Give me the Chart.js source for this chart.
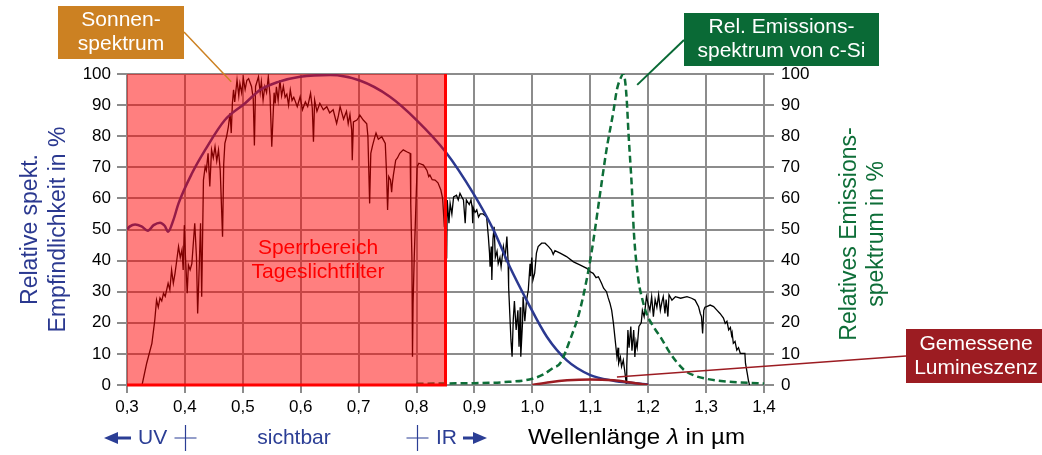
<!DOCTYPE html>
<html><head><meta charset="utf-8">
<script src="https://cdn.jsdelivr.net/npm/chart.js@4/dist/chart.umd.min.js"></script>
<style>html,body{margin:0;padding:0;background:#fff;overflow:hidden}#c{display:block}</style>
</head><body>
<canvas id="c" width="1042" height="455"></canvas>
<script>
// ---------- DATA ----------
const xTickLabels = ['0,3','0,4','0,5','0,6','0,7','0,8','0,9','1,0','1,1','1,2','1,3','1,4'];
const yTickValues = [0,10,20,30,40,50,60,70,80,90,100];

// Sonnenspektrum (relative, %)
const solarLambda = [0.326,0.334,0.343,0.348,0.351,0.354,0.357,0.36,0.363,0.366,0.371,0.374,0.377,0.38,0.383,0.386,0.389,0.392,0.395,0.397,0.399,0.401,0.404,0.406,0.409,0.412,0.417,0.42,0.422,0.424,0.427,0.429,0.432,0.435,0.437,0.44,0.443,0.446,0.449,0.452,0.455,0.458,0.461,0.465,0.467,0.469,0.472,0.475,0.478,0.48,0.482,0.484,0.486,0.49,0.493,0.495,0.498,0.501,0.504,0.507,0.51,0.515,0.518,0.52,0.522,0.527,0.53,0.532,0.535,0.538,0.541,0.544,0.547,0.55,0.554,0.556,0.558,0.561,0.564,0.567,0.57,0.573,0.576,0.579,0.582,0.585,0.588,0.594,0.599,0.603,0.608,0.612,0.617,0.62,0.622,0.624,0.628,0.633,0.639,0.645,0.65,0.656,0.662,0.665,0.668,0.674,0.679,0.682,0.685,0.688,0.689,0.691,0.697,0.7,0.702,0.708,0.714,0.716,0.719,0.721,0.724,0.728,0.73,0.734,0.74,0.746,0.748,0.75,0.752,0.755,0.757,0.758,0.76,0.764,0.767,0.771,0.777,0.783,0.789,0.79,0.792,0.793,0.794,0.796,0.799,0.801,0.804,0.812,0.818,0.821,0.823,0.827,0.832,0.837,0.842,0.845,0.848,0.849,0.851,0.852,0.853,0.856,0.858,0.861,0.864,0.869,0.872,0.875,0.878,0.881,0.884,0.886,0.891,0.894,0.896,0.897,0.898,0.901,0.904,0.907,0.91,0.915,0.921,0.924,0.926,0.927,0.929,0.93,0.932,0.934,0.936,0.939,0.941,0.944,0.946,0.95,0.953,0.956,0.958,0.959,0.961,0.963,0.965,0.967,0.969,0.972,0.975,0.977,0.979,0.98,0.983,0.984,0.987,0.99,0.993,0.996,0.997,0.999,1.001,1.004,1.007,1.01,1.016,1.022,1.028,1.033,1.036,1.039,1.048,1.059,1.071,1.082,1.094,1.1,1.105,1.11,1.114,1.117,1.12,1.123,1.128,1.131,1.134,1.137,1.14,1.143,1.146,1.148,1.149,1.152,1.154,1.157,1.16,1.162,1.163,1.165,1.167,1.17,1.172,1.175,1.177,1.179,1.181,1.184,1.188,1.19,1.193,1.195,1.197,1.2,1.203,1.206,1.209,1.212,1.215,1.218,1.221,1.224,1.226,1.229,1.231,1.234,1.236,1.241,1.247,1.256,1.267,1.275,1.281,1.287,1.29,1.292,1.294,1.296,1.298,1.301,1.307,1.313,1.319,1.324,1.33,1.333,1.336,1.339,1.342,1.344,1.345,1.347,1.35,1.353,1.356,1.359,1.367,1.368,1.371,1.373,1.375];
const solarValue = [0,7,13.4,20.9,27.3,25,28,27,29.5,28.5,32.7,30.6,37,32.7,36,40.2,44.5,41,43.5,37,51.4,41,29.5,38.6,37,39,52,41,23,33.7,52,28.4,65.9,70.2,69,74.5,63.8,75.6,73,76.6,72,75.6,69,47.7,71,77.7,79.9,83,87.4,81,90.6,94.9,91,98.1,93,97,94,98.5,95,98,98.5,96,92,77,96,99.1,94,97.5,91.6,96,94,99.1,93,76.6,94,90.5,95.9,91.5,98,93,96,92.5,93.5,90,94.9,91.5,92.5,89.5,92.7,88.5,91,89.5,93.8,89,78.2,91.6,88,90.6,88.5,89.5,87.5,88.5,84.1,86.5,89.5,85.5,88,84,87,82,72.3,84.6,85.2,86,86.8,85.2,84,80,58.4,74.5,77,79.8,81,79,79.8,77.7,69,56.3,67,65.9,62,64.5,67.5,72.3,73,74.5,75.6,75,74.5,58.4,41,9.1,26,41,58.4,70.2,71.3,70.7,69,67,67.5,66,65.9,65,62.7,60,50.9,55,52,40.7,59.5,52,58.4,55,60.5,61,59.5,61.6,60.5,59.5,52,59.5,58,59.5,57,52,57,55.5,56.3,54,55,55,54,47.7,42.4,38,44.5,33.8,47,50.9,41,43,39,41,38,44.5,41,47.7,40,31.6,23,14.5,9.1,21,27,17.7,24,12.3,25,9.1,20,28.4,20.5,27.3,30.6,39,35,41,33.8,36,42.4,44.5,45.6,45.6,44.5,43.4,42,43.2,42.4,41.3,39.6,38.6,37.5,36.4,35.9,34.5,34.8,33.7,32.5,31.1,30,28,26.3,24,19.8,14.5,9.1,12,7,9,5.9,8,3.8,0.5,6,17.7,12,18.8,11,17.7,9,14,12,18.8,20,24,22,25,28.4,26,24,28.4,22,27.5,25,29,24,27,28.4,23,27.5,22,29,27.3,28.4,27.9,28.4,27.9,27.3,25.2,23,22,16.6,24,25,25.2,25.7,25.2,24,23,21.5,19.8,20.5,17.7,18.5,16,16.8,13.4,14,11.2,12,10.2,10.2,7,3.8,1.6,0];

// Relative spektrale Empfindlichkeit (%)
const sensLambda = [0.3,0.305,0.314,0.325,0.336,0.346,0.357,0.365,0.371,0.38,0.389,0.412,0.435,0.469,0.504,0.53,0.56,0.599,0.651,0.702,0.754,0.8,0.85,0.898,0.933,0.961,0.99,1.025,1.059,1.1,1.14,1.17,1.2];
const sensValue  = [50,51,51.6,51,49.6,51.4,52.2,51.2,49.3,53,58.4,68,75.6,85.2,90.6,94.9,97.4,99.1,99.7,97.9,92.7,85.2,75,61.6,49.8,38,27.3,15.5,8,3.2,1.4,0.7,0.2];

// Relatives Emissionsspektrum von c-Si (%)
const emisLambda = [0.8,0.85,0.9,0.95,1.0,1.02,1.036,1.048,1.065,1.082,1.097,1.105,1.117,1.128,1.14,1.146,1.152,1.157,1.16,1.163,1.166,1.172,1.175,1.183,1.19,1.197,1.21,1.221,1.238,1.261,1.28,1.3,1.33,1.36,1.4];
const emisValue  = [0.4,0.5,0.6,0.9,2,3.5,5.5,7,14.5,24,37,46,61.6,75.6,88,95,98.5,100,98,91.6,81,62.7,50,34,27.5,23,18.5,15.5,10.2,5,3,2,1.2,0.8,0.5];

// Gemessene Lumineszenz (%)
const lumLambda = [1.0,1.03,1.06,1.1,1.14,1.17,1.2];
const lumValue  = [0,0.9,1.5,1.8,1.5,0.8,0];

// Sperrbereich Tageslichtfilter (µm)
const filterRange = [0.3, 0.85];

// ---------- CHART ----------
const FONT = '"Liberation Sans", Arial, Helvetica, sans-serif';
const zip = (a, b) => a.map((x, i) => ({x, y: b[i]}));
const GRID = '#8c8c8c';

const annotate = {
  id: 'annotate',
  afterDatasetsDraw(chart) {
    const {ctx, scales: {x, y}} = chart;
    const x0 = x.getPixelForValue(filterRange[0]), x1 = x.getPixelForValue(filterRange[1]);
    const yt = y.getPixelForValue(100), yb = y.getPixelForValue(0);
    ctx.save();
    ctx.fillStyle = 'rgba(255,0,0,0.5)';
    ctx.fillRect(x0, yt, x1 - x0, yb - yt);
    ctx.strokeStyle = '#ff0000';
    ctx.lineWidth = 3;
    ctx.beginPath();
    ctx.moveTo(x0, yb); ctx.lineTo(x1, yb); ctx.lineTo(x1, yt);
    ctx.stroke();
    ctx.fillStyle = '#ff0000';
    ctx.font = '21px ' + FONT;
    ctx.textAlign = 'center'; ctx.textBaseline = 'middle';
    ctx.fillText('Sperrbereich', 318, 248);
    ctx.fillText('Tageslichtfilter', 318, 272);
    ctx.restore();
  },
  afterDraw(chart) {
    const {ctx, scales: {x, y}} = chart;
    ctx.save();
    // right axis title
    ctx.fillStyle = '#0e6e38';
    ctx.font = '23px ' + FONT;
    ctx.textAlign = 'center'; ctx.textBaseline = 'middle';
    ctx.translate(850, 234);
    ctx.rotate(-Math.PI / 2);
    ctx.fillText('Relatives Emissions-', 0, 0);
    ctx.fillText('spektrum in %', 0, 27);
    ctx.setTransform(1, 0, 0, 1, 0, 0);

    // callouts
    function callout(lines, bx, by, bw, bh, color, ax, ay, lx, ly, lw) {
      ctx.strokeStyle = color; ctx.lineWidth = lw;
      ctx.beginPath(); ctx.moveTo(lx, ly); ctx.lineTo(ax, ay); ctx.stroke();
      ctx.fillStyle = color;
      ctx.fillRect(bx, by, bw, bh);
      ctx.fillStyle = '#ffffff';
      ctx.font = '21px ' + FONT;
      ctx.textAlign = 'center'; ctx.textBaseline = 'middle';
      ctx.fillText(lines[0], bx + bw / 2, by + bh / 2 - 12);
      ctx.fillText(lines[1], bx + bw / 2, by + bh / 2 + 12);
    }
    callout(['Sonnen-', 'spektrum'], 58, 6, 126, 53, '#cc8122',
      x.getPixelForValue(0.48), y.getPixelForValue(97.5), 184, 32, 1.5);
    callout(['Rel. Emissions-', 'spektrum von c-Si'], 684, 13, 195, 53, '#0a6a36',
      x.getPixelForValue(1.181), y.getPixelForValue(96.5), 684, 40, 2);
    callout(['Gemessene', 'Lumineszenz'], 906, 329, 140, 54, '#9c1c22',
      x.getPixelForValue(1.146), y.getPixelForValue(2.6), 906, 356, 1.5);

    // bottom row
    const blue = '#2b3e95';
    const by = 438;
    ctx.fillStyle = blue; ctx.strokeStyle = blue;
    ctx.font = '21px ' + FONT;
    ctx.textBaseline = 'middle';
    ctx.lineWidth = 3;
    ctx.beginPath(); ctx.moveTo(116, by); ctx.lineTo(131, by); ctx.stroke();
    ctx.beginPath(); ctx.moveTo(104, by); ctx.lineTo(118, by - 6); ctx.lineTo(118, by + 6); ctx.closePath(); ctx.fill();
    ctx.textAlign = 'left';
    ctx.fillText('UV', 138, by);
    ctx.lineWidth = 1.2;
    [0.4, 0.8].forEach(v => {
      const px = Math.round(x.getPixelForValue(v)) + 0.5;
      ctx.beginPath();
      ctx.moveTo(px, by - 13); ctx.lineTo(px, by + 13);
      ctx.moveTo(px - 11, by); ctx.lineTo(px + 11, by);
      ctx.stroke();
    });
    ctx.textAlign = 'center';
    ctx.fillText('sichtbar', 294, by);
    ctx.textAlign = 'left';
    ctx.fillText('IR', 436, by);
    ctx.lineWidth = 3;
    ctx.beginPath(); ctx.moveTo(463, by); ctx.lineTo(476, by); ctx.stroke();
    ctx.beginPath(); ctx.moveTo(487, by); ctx.lineTo(473, by - 6); ctx.lineTo(473, by + 6); ctx.closePath(); ctx.fill();
    // axis label, stretched to the reference width
    ctx.fillStyle = '#000';
    ctx.textAlign = 'left';
    const seg = [['Wellenlänge ', ''], ['λ', 'italic '], [' in µm', '']];
    let total = 0;
    seg.forEach(([t, st]) => { ctx.font = st + '22px ' + FONT; total += ctx.measureText(t).width; });
    const sx = 217 / total;
    ctx.translate(528, by);
    ctx.scale(sx, 1);
    let tx = 0;
    seg.forEach(([t, st]) => {
      ctx.font = st + '22px ' + FONT;
      ctx.fillText(t, tx, 0);
      tx += ctx.measureText(t).width;
    });
    ctx.restore();
  }
};

new Chart(document.getElementById('c'), {
  type: 'line',
  data: {
    datasets: [
      { label: 'Gemessene Lumineszenz', data: zip(lumLambda, lumValue), borderColor: '#9c1c22', borderWidth: 2.5,
        pointRadius: 0, cubicInterpolationMode: 'monotone', fill: false, yAxisID: 'y' },
      { label: 'Rel. Emissionsspektrum von c-Si', data: zip(emisLambda, emisValue), borderColor: '#0e6e38', borderWidth: 2.5,
        borderDash: [7, 4], pointRadius: 0, cubicInterpolationMode: 'monotone', fill: false, yAxisID: 'y2' },
      { label: 'Relative spektrale Empfindlichkeit', data: zip(sensLambda, sensValue), borderColor: '#2b3990', borderWidth: 2.5,
        pointRadius: 0, cubicInterpolationMode: 'monotone', fill: false, yAxisID: 'y' },
      { label: 'Sonnenspektrum', data: zip(solarLambda, solarValue), borderColor: '#000000', borderWidth: 1.3,
        pointRadius: 0, tension: 0, fill: false, yAxisID: 'y' }
    ]
  },
  options: {
    responsive: false,
    animation: false,
    devicePixelRatio: 1,
    layout: { padding: { top: 74, left: 0, right: 0, bottom: 0 } },
    plugins: { legend: { display: false }, tooltip: { enabled: false }, title: { display: false } },
    scales: {
      x: {
        type: 'linear', min: 0.3, max: 1.4,
        ticks: { stepSize: 0.1, color: '#000', font: { family: FONT, size: 17 }, padding: 4, maxRotation: 0, autoSkip: false,
          callback: v => xTickLabels[Math.round((v - 0.3) * 10)] },
        grid: { color: GRID, lineWidth: 2, tickLength: 8, tickColor: GRID },
        border: { color: GRID, width: 2 },
        afterFit: s => { s.height = 70; }
      },
      y: {
        position: 'left', min: 0, max: 100,
        afterBuildTicks: s => { s.ticks = yTickValues.map(v => ({ value: v })); },
        ticks: { color: '#000', font: { family: FONT, size: 17 }, padding: 6 },
        grid: { color: GRID, lineWidth: 2, tickLength: 10, tickColor: GRID },
        border: { color: GRID, width: 2 },
        title: { display: true, text: ['Relative spekt.', 'Empfindlichkeit in %'], color: '#2b3990',
          font: { family: FONT, size: 23 }, padding: { top: 17, bottom: 0 } },
        afterFit: s => { s.width = 127; }
      },
      y2: {
        position: 'right', min: 0, max: 100,
        afterBuildTicks: s => { s.ticks = yTickValues.map(v => ({ value: v })); },
        ticks: { color: '#000', font: { family: FONT, size: 17 }, padding: 7 },
        grid: { drawOnChartArea: false, color: GRID, lineWidth: 2, tickLength: 10, tickColor: GRID },
        border: { color: GRID, width: 2 },
        afterFit: s => { s.width = 1042 - 764; }
      }
    }
  },
  plugins: [annotate]
});
</script>
</body></html>
